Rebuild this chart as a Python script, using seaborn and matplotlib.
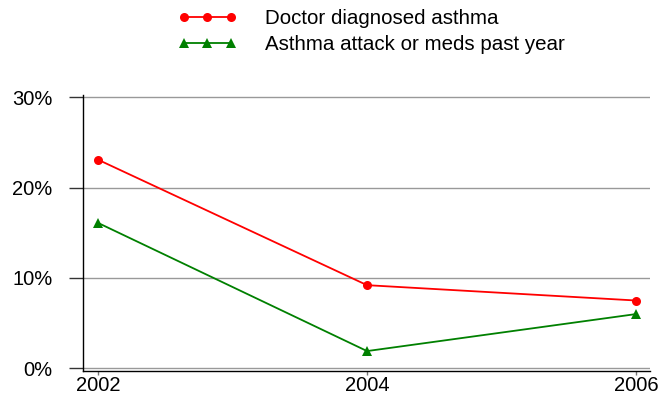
import pandas as pd
import numpy as np
import matplotlib
matplotlib.use('Agg')
import matplotlib.pyplot as plt
import seaborn as sns
from matplotlib.ticker import FuncFormatter

# 数据
years = [2002, 2004, 2006]
series_names = ['Doctor diagnosed asthma', 'Asthma attack or meds past year']
diagnosed = [23.1, 9.2, 7.5]
attack_meds = [16.1, 1.9, 6.0]
y_ticks = [0, 10, 20, 30]

df = pd.DataFrame({
    'year': years * 2,
    'value': diagnosed + attack_meds,
    'series': [series_names[0]] * 3 + [series_names[1]] * 3,
})

sns.set_style('white')
plt.rcParams['font.family'] = ['Liberation Sans', 'DejaVu Sans']
plt.rcParams['text.color'] = 'black'

fig = plt.figure(figsize=(6.58, 3.98), dpi=100)
ax = fig.add_axes([0.126, 0.068, 0.862, 0.693])

sns.lineplot(data=df, x='year', y='value', hue='series', style='series',
             markers=['o', '^'], dashes=False, palette=['#ff0000', '#008000'],
             markersize=6.5, markeredgewidth=0, linewidth=1.3, legend=False, ax=ax)

ax.set_xlim(2001.888, 2006.104)
ax.set_ylim(-0.3, 30.25)
ax.set_xticks(years)
ax.set_yticks(y_ticks)
ax.yaxis.set_major_formatter(FuncFormatter(lambda v, p: f'{v:.0f}%'))
ax.set_xlabel('')
ax.set_ylabel('')

ax.grid(axis='y', color='#999999', linewidth=1)
ax.set_axisbelow(True)
for s in ['top', 'right']:
    ax.spines[s].set_visible(False)
for s in ['left', 'bottom']:
    ax.spines[s].set_color('#000000')
    ax.spines[s].set_linewidth(1)

ax.tick_params(axis='y', direction='out', length=10, width=1, color='#333333',
               pad=12, labelsize=14.5, labelcolor='black', left=True)
ax.tick_params(axis='x', direction='out', length=3, width=1, color='#777777',
               pad=1, labelsize=14.5, labelcolor='black', bottom=True)

handles = ax.lines[:2]
fig.legend(handles, series_names, loc='upper left', bbox_to_anchor=(0.27, 0.978),
           frameon=False, numpoints=3, handlelength=2.9, handletextpad=1.37,
           borderpad=0, borderaxespad=0, labelspacing=0.34, fontsize=14.8,
           labelcolor='black')

fig.savefig('out.png', dpi=100)
plt.close(fig)
